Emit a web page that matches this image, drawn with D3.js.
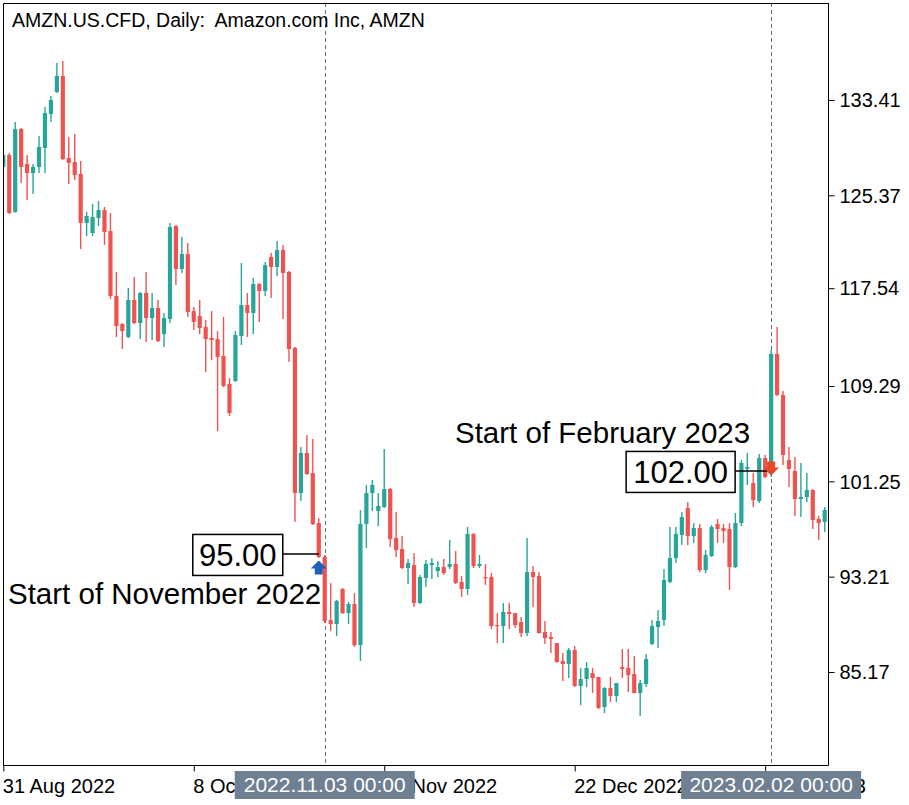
<!DOCTYPE html>
<html><head><meta charset="utf-8">
<script src="https://cdn.jsdelivr.net/npm/d3@7"></script>
<style>body{margin:0;background:#fff}svg{display:block}</style>
</head><body>
<svg id="c" width="909" height="805"></svg>
<script>
// ---- DATA (daily OHLC) ----
const opens  = [127.76,128.77,123.96,130.96,128.01,127.25,127.76,129.36,132.23,134.08,135.43,128.52,128.18,127.17,123.04,122.19,123.46,124.13,122.36,116.88,114.52,113.42,116.54,114.60,117.13,115.02,115.87,113.67,114.94,122.78,119.16,120.42,115.61,115.19,114.27,113.34,113.25,111.82,109.46,109.71,113.51,116.12,115.45,117.89,117.30,120.17,119.33,120.76,118.90,112.49,100.26,103.64,101.95,97.73,94.87,89.55,89.22,92.17,90.14,90.90,87.44,97.65,100.26,98.75,99.08,100.60,96.47,95.54,93.94,94.19,90.99,93.10,94.19,93.69,94.02,94.02,94.28,92.76,92.17,96.81,94.11,93.18,93.18,89.13,89.05,90.23,90.14,89.38,88.46,93.60,93.26,88.54,88.12,87.61,86.10,85.84,87.02,83.99,84.58,85.08,84.75,82.22,83.82,83.14,85.59,85.51,85.00,83.40,84.16,87.53,88.96,89.55,92.76,94.78,96.72,99.00,96.64,97.31,93.77,94.95,97.65,97.31,97.23,94.02,97.73,102.29,101.11,99.59,103.22,102.88,111.99,108.53,103.05,102.12,99.76,99.93,100.52,98.07,97.82];
const highs  = [129.19,128.94,131.55,131.05,128.77,128.01,130.37,132.82,133.75,136.53,136.70,130.29,130.54,128.27,123.96,124.64,124.89,124.39,123.88,118.90,114.60,117.55,118.48,117.22,118.90,117.13,116.54,115.45,123.04,122.87,121.86,121.35,115.95,116.54,114.86,115.61,113.93,115.11,109.96,113.93,119.66,117.13,118.40,117.97,119.75,120.51,121.52,121.18,118.99,112.58,104.14,105.16,104.82,98.16,95.04,92.67,91.24,92.25,91.07,91.83,98.83,100.94,101.36,100.26,103.98,100.69,98.66,96.64,94.70,95.20,93.35,94.61,94.78,94.53,94.70,96.30,95.37,93.26,97.40,96.89,95.04,94.28,93.52,90.14,90.99,90.99,90.14,89.81,96.47,94.11,93.60,89.47,88.54,87.61,86.77,87.19,87.36,85.51,86.01,85.51,84.75,83.90,84.75,84.24,87.11,87.11,86.52,84.49,86.69,89.55,90.40,93.85,97.40,97.40,98.66,99.51,97.73,97.65,95.46,97.57,98.07,97.65,97.73,98.58,103.05,103.64,101.95,103.55,103.47,112.33,114.27,108.87,104.14,103.30,102.80,101.95,100.60,98.32,99.08];
const lows   = [127.51,123.80,123.92,126.41,124.98,125.48,127.25,127.25,131.55,134.00,128.35,126.33,126.66,120.84,121.94,121.94,122.78,121.18,116.63,113.42,112.41,113.34,114.52,113.25,113.00,113.17,113.00,112.58,114.60,117.81,118.82,115.11,114.01,113.67,110.47,111.48,105.49,109.20,106.76,109.63,112.75,113.42,113.67,114.69,116.88,116.71,118.57,114.94,111.31,97.82,99.59,101.78,97.57,94.78,89.30,88.63,88.20,90.06,89.22,87.28,86.10,95.63,98.75,97.48,99.00,95.71,94.87,93.85,92.59,90.65,90.90,92.34,93.01,93.18,93.35,93.85,92.59,91.49,91.66,93.94,93.94,92.51,88.79,87.61,87.61,88.79,88.88,88.12,88.20,90.65,88.40,87.53,86.77,85.95,84.41,84.66,83.90,82.38,83.90,83.40,82.05,81.71,82.64,82.64,84.66,83.48,83.35,81.46,83.90,87.45,87.19,89.05,92.67,94.36,95.88,95.88,96.05,93.60,93.52,94.87,96.05,96.05,92.08,93.94,97.48,100.94,99.08,99.42,101.53,101.61,108.45,102.63,100.77,98.32,98.24,99.51,97.23,96.30,96.97];
const closes = [128.77,123.88,130.96,127.76,127.25,127.76,129.45,132.31,133.41,135.43,128.43,128.10,127.08,123.04,123.63,123.54,124.13,122.28,116.88,114.35,113.93,116.54,114.60,117.13,115.02,115.87,113.08,115.02,122.70,119.16,120.42,115.53,114.69,114.18,113.25,113.17,111.74,109.29,107.01,113.59,116.12,115.45,117.89,117.30,119.49,119.33,120.76,118.82,112.41,100.26,103.64,101.87,97.65,94.87,89.47,89.22,91.16,90.14,90.90,87.44,97.65,100.26,100.94,99.17,100.60,96.38,95.46,93.94,94.36,90.99,93.18,94.28,94.36,94.02,93.52,94.28,92.67,92.17,96.81,94.11,94.28,93.10,89.05,89.05,90.23,90.06,89.13,88.46,93.60,93.18,88.46,88.03,87.95,86.01,85.84,87.02,83.99,84.58,85.51,84.66,82.13,83.82,83.14,84.24,85.42,84.91,83.40,84.24,86.26,89.05,89.47,92.93,94.78,96.81,98.24,96.64,97.31,93.77,95.04,97.40,97.23,97.06,94.02,97.73,102.80,102.46,99.67,103.22,101.61,111.99,108.53,103.47,102.29,99.76,99.93,100.52,97.99,97.73,98.83];

const xTickIndex  = [0, 32, 64, 96, 128];
const xTickLabels = ["31 Aug 2022", "8 Oct 2022", "15 Nov 2022", "22 Dec 2022", "1 Feb 2023"];
const yTickValues = [133.41, 125.37, 117.54, 109.29, 101.25, 93.21, 85.17];

const eventIndex      = [54, 129];
const eventDateLabels = ["2022.11.03 00:00", "2023.02.02 00:00"];
const eventArrowIndex = [53, 129];
const eventPrices     = [95.00, 102.00];
const eventTitles     = ["Start of November 2022", "Start of February 2023"];
const eventDirections = ["up", "down"];

(function () {
// ---- LAYOUT ----
const W = 909, H = 805;
const pL = 3, pT = 3, pR = 828, pB = 765;
const UP = "#26a69a", DOWN = "#ef5350";
const FONT = "'Liberation Sans', Arial, sans-serif";

const svg = d3.select("#c");
svg.append("rect").attr("width", W).attr("height", H).attr("fill", "#fff");

const x = d3.scaleLinear().domain([0, opens.length - 1]).range([3.3, 824.7]);
const y = d3.scaleLinear().domain([85.17, 133.41]).range([672, 100]);

svg.append("clipPath").attr("id", "plot")
  .append("rect").attr("x", pL).attr("y", pT).attr("width", pR - pL).attr("height", pB - pT);

// dashed event lines
svg.append("g").selectAll("line").data(eventIndex).join("line")
  .attr("x1", d => Math.round(x(d)) + 0.5).attr("x2", d => Math.round(x(d)) + 0.5)
  .attr("y1", pT).attr("y2", pB)
  .attr("stroke", "#5d6e80").attr("stroke-width", 1).attr("stroke-dasharray", "4,3");

// candles
const idx = d3.range(opens.length);
const g = svg.append("g").attr("clip-path", "url(#plot)");
g.selectAll("line.w").data(idx).join("line").attr("class", "w")
  .attr("x1", i => x(i)).attr("x2", i => x(i))
  .attr("y1", i => y(highs[i])).attr("y2", i => y(lows[i]))
  .attr("stroke", i => closes[i] >= opens[i] ? UP : DOWN).attr("stroke-width", 1.4);
g.selectAll("rect.b").data(idx).join("rect").attr("class", "b")
  .attr("x", i => x(i) - 2.1).attr("width", 4.2)
  .attr("y", i => y(Math.max(opens[i], closes[i])))
  .attr("height", i => Math.max(1.2, Math.abs(y(opens[i]) - y(closes[i]))))
  .attr("fill", i => closes[i] >= opens[i] ? UP : DOWN);

// frame
svg.append("path").attr("d", `M${pL+0.5},${pB} V${pT+0.5} H${pR+0.5} V${pB}`)
  .attr("fill", "none").attr("stroke", "#000").attr("stroke-width", 1);

// right axis
const ya = svg.append("g").attr("transform", `translate(${pR + 0.5},0)`)
  .call(d3.axisRight(y).tickValues(yTickValues).tickFormat(d3.format(".2f")).tickSize(6).tickSizeOuter(0));
ya.select(".domain").remove();
ya.selectAll(".tick line").attr("stroke", "#000");
ya.selectAll(".tick text").attr("x", 11).attr("dy", "0.34em")
  .attr("font-family", FONT).attr("font-size", 20).attr("fill", "#000");
svg.append("line").attr("x1", pR + 0.5).attr("x2", pR + 0.5).attr("y1", pT).attr("y2", pB + 0.5)
  .attr("stroke", "#000");

// bottom axis
const xa = svg.append("g").attr("transform", `translate(0,${pB + 0.5})`)
  .call(d3.axisBottom(x).tickValues(xTickIndex).tickFormat((d, i) => xTickLabels[i]).tickSize(6).tickSizeOuter(0));
xa.select(".domain").remove();
xa.selectAll(".tick line").attr("stroke", "#000");
xa.selectAll(".tick text").attr("text-anchor", "start").attr("y", 27).attr("dy", 0).attr("x", -1)
  .attr("font-family", FONT).attr("font-size", 20).attr("fill", "#000");
svg.append("line").attr("x1", pL).attr("x2", pR + 0.5).attr("y1", pB + 0.5).attr("y2", pB + 0.5)
  .attr("stroke", "#000");

// event date boxes on the time axis (they cover the axis labels, as in the terminal)
const eb = svg.append("g").selectAll("g").data(eventIndex).join("g")
  .attr("transform", d => `translate(${x(d)},${pB + 6})`);
eb.append("rect").attr("x", -90).attr("width", 180).attr("y", 0).attr("height", 28).attr("fill", "#6e8091");
eb.append("text").attr("text-anchor", "middle").attr("y", 21).attr("fill", "#fff")
  .attr("font-family", FONT).attr("font-size", 21).text((d, i) => eventDateLabels[i]);

// price labels with leader lines and arrows
eventPrices.forEach((p, i) => {
  const ax = x(eventArrowIndex[i]);
  const py = y(p);
  const txt = p.toFixed(2);
  const boxW = i === 0 ? 90 : 109;
  const bx = ax - 36 - boxW;
  svg.append("line").attr("x1", bx + boxW).attr("x2", ax).attr("y1", py - 1.5).attr("y2", py - 1.5)
    .attr("stroke", "#000").attr("stroke-width", 1.5);
  svg.append("rect").attr("x", bx).attr("y", py - 21).attr("width", boxW).attr("height", 41)
    .attr("fill", "#fff").attr("stroke", "#000").attr("stroke-width", 1.5);
  svg.append("text").attr("x", bx + boxW / 2).attr("y", py + 11).attr("text-anchor", "middle")
    .attr("font-family", FONT).attr("font-size", 31).attr("fill", "#000").text(txt);
  if (eventDirections[i] === "up") {
    const t = py + 5;
    svg.append("path").attr("d",
      `M${ax},${t} L${ax+8},${t+8} L${ax+4},${t+8} L${ax+4},${t+14} L${ax-4},${t+14} L${ax-4},${t+8} L${ax-8},${t+8} Z`)
      .attr("fill", "#1a63b5");
  } else {
    const b = py + 3;
    svg.append("path").attr("d",
      `M${ax},${b} L${ax+8},${b-8} L${ax+4},${b-8} L${ax+4},${b-14} L${ax-4},${b-14} L${ax-4},${b-8} L${ax-8},${b-8} Z`)
      .attr("fill", "#e8472a");
  }
});

// event titles
svg.append("text").attr("x", 8).attr("y", y(eventPrices[0]) + 49)
  .attr("font-family", FONT).attr("font-size", 29.5).attr("fill", "#000").text(eventTitles[0]);
svg.append("text").attr("x", 455).attr("y", y(eventPrices[1]) - 29)
  .attr("font-family", FONT).attr("font-size", 29.5).attr("fill", "#000").text(eventTitles[1]);

// chart title (two spaces kept after the colon)
svg.append("text").attr("x", 12).attr("y", 27)
  .attr("font-family", FONT).attr("font-size", 19.5).attr("fill", "#000")
  .style("white-space", "pre")
  .text("AMZN.US.CFD, Daily:  Amazon.com Inc, AMZN");
})();
</script>
</body></html>
